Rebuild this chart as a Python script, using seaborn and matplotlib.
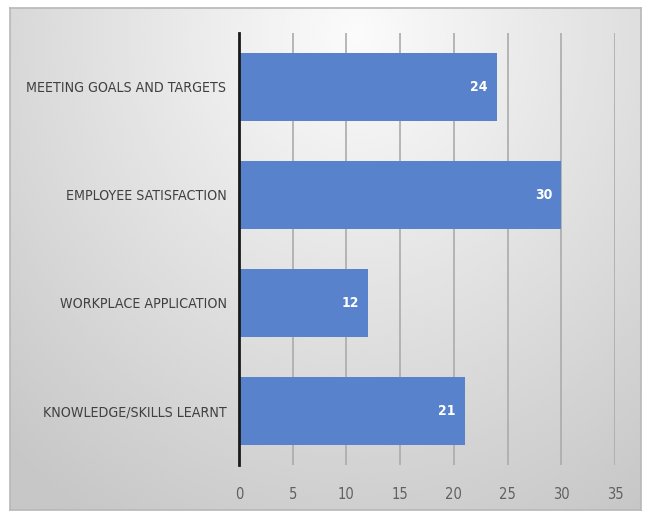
import numpy as np
import pandas as pd
import matplotlib
matplotlib.use("Agg")
import matplotlib.pyplot as plt
import seaborn as sns

categories = [
    "MEETING GOALS AND TARGETS",
    "EMPLOYEE SATISFACTION",
    "WORKPLACE APPLICATION",
    "KNOWLEDGE/SKILLS LEARNT",
]
scores = [24, 30, 12, 21]
x_ticks = [0, 5, 10, 15, 20, 25, 30, 35]

df = pd.DataFrame({"category": categories, "score": scores})

sns.set_theme(style="white")
plt.rcParams["font.family"] = ["DejaVu Sans"]
plt.rcParams["font.stretch"] = "condensed"

W, H = 646, 513
fig = plt.figure(figsize=(W / 100, H / 100), dpi=100)
fig.patch.set_facecolor("white")

# framed panel with a soft radial gray gradient
bg = fig.add_axes([10 / W, 3 / H, 631 / W, 502 / H], zorder=0)
yy, xx = np.mgrid[0:1:300j, 0:1:400j]
r = np.sqrt(((xx - 0.55) / 0.8) ** 2 + ((yy - 0.05) / 1.1) ** 2)
shade = np.clip(0.985 - 0.2 * r, 0.78, 0.985)
bg.imshow(shade, cmap="gray", vmin=0, vmax=1, aspect="auto",
          extent=[0, 1, 1, 0], interpolation="bicubic")
bg.set_xticks([])
bg.set_yticks([])
for s in bg.spines.values():
    s.set_color("#b8b8b8")
    s.set_linewidth(1.2)

ax = fig.add_axes([239 / W, 1 - 465 / H, (615 - 239) / W, (465 - 33) / H], zorder=1)
ax.patch.set_alpha(0)

sns.barplot(data=df, x="score", y="category", orient="h", color="#5882CC",
            saturation=1, width=0.63, linewidth=0, ax=ax, zorder=3)

ax.set_xlim(0, 35)
ax.set_xticks(x_ticks)
ax.set_xticklabels([str(t) for t in x_ticks])
ax.set_xlabel("")
ax.set_ylabel("")

# vertical gridlines
for t in x_ticks[1:]:
    ax.axvline(t, color="#ababab", linewidth=1.2, zorder=1)

for s in ["top", "right", "bottom"]:
    ax.spines[s].set_visible(False)
ax.spines["left"].set_color("#1a1a1a")
ax.spines["left"].set_linewidth(2)
ax.spines["left"].set_zorder(4)

ax.tick_params(axis="x", length=0, pad=16, labelsize=10.5, labelcolor="#606060")
ax.tick_params(axis="y", length=0, pad=9, labelsize=10.2, labelcolor="#404040")

for c in ax.containers:
    ax.bar_label(c, labels=[str(v) for v in scores], padding=-19,
                 color="white", fontsize=10, fontweight="bold")

fig.savefig("out.png", dpi=100, facecolor="white")
